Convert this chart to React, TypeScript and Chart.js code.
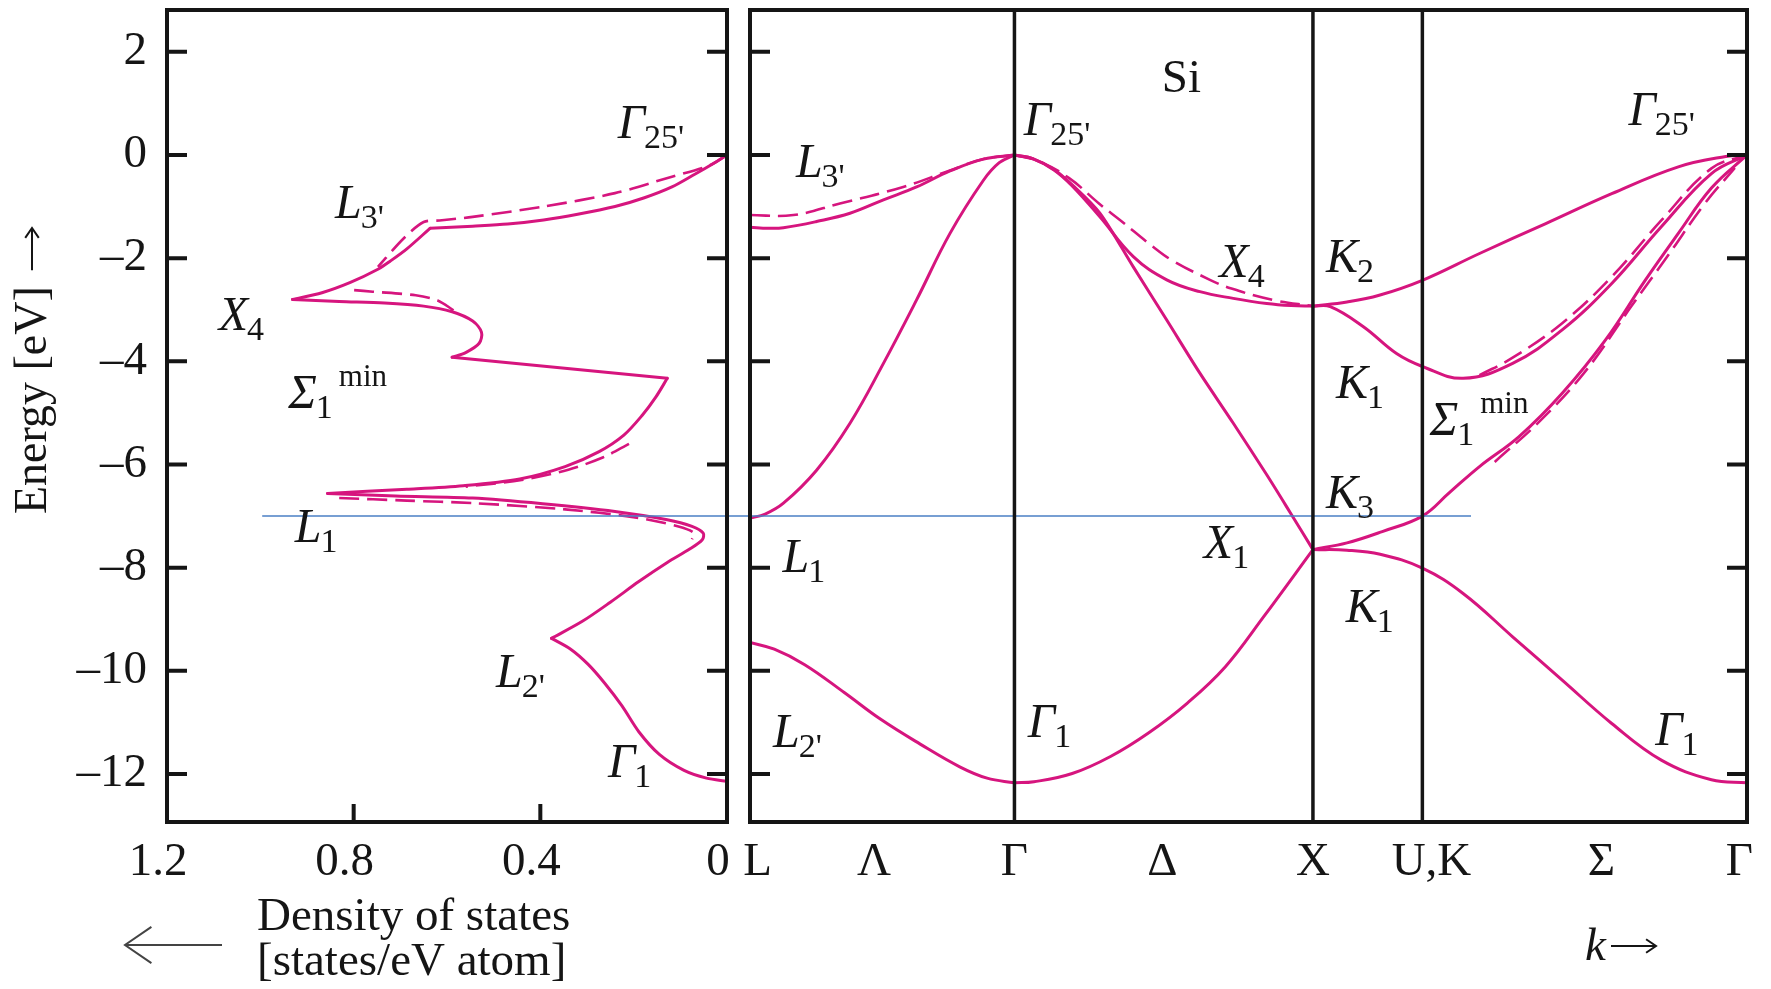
import React, { useEffect, useRef } from 'react';
import { Chart, registerables } from 'chart.js';

Chart.register(...registerables);

const W = 1771;
const H = 989;
const MAGENTA = '#d6157e';
const BLUE = '#4a7fc4';
const INK = '#151515';
const FONT = "'Liberation Serif', 'Times New Roman', serif";

// ---------- axes ----------
const energyMin = -12.93;
const energyMax = 2.81;
const energyTicks = [-12, -10, -8, -6, -4, -2, 0, 2];
const dosTicks = [0, 0.4, 0.8, 1.2];
const dosBottomMarks = [0.4, 0.8];

// k path: L, Γ, X, U/K, Γ
const kMax = 3.28;
const kSymmetryLines = [0.87, 1.852, 2.212];
const kLabelPos = [0.025, 0.408, 0.87, 1.357, 1.852, 2.242, 2.801, 3.255];
const kLabelNames = ['L', 'Λ', 'Γ', 'Δ', 'X', 'U,K', 'Σ', 'Γ'];

// ---------- density of states, solid [DOS, E] ----------
const dosTopBranch = [
  [0, 0], [0.03, -0.17], [0.07, -0.38], [0.118, -0.62], [0.177, -0.83], [0.240, -1.00],
  [0.320, -1.15], [0.393, -1.26], [0.470, -1.34], [0.545, -1.38], [0.636, -1.42],
];
const dosToX4 = [
  [0.636, -1.42], [0.686, -1.82], [0.722, -2.06], [0.747, -2.21], [0.807, -2.47], [0.868, -2.67], [0.931, -2.80],
];
const dosX4Bump = [
  [0.931, -2.80], [0.831, -2.84], [0.734, -2.87], [0.650, -2.93], [0.589, -3.04], [0.545, -3.22],
  [0.526, -3.44], [0.531, -3.65], [0.560, -3.83], [0.589, -3.92],
];
const dosSigmaRise = [[0.589, -3.92], [0.128, -4.33]];
const dosSigmaFall = [
  [0.128, -4.33], [0.153, -4.70], [0.182, -5.05], [0.221, -5.43], [0.274, -5.75], [0.347, -6.04],
  [0.444, -6.28], [0.565, -6.41], [0.686, -6.48], [0.856, -6.56],
];
const dosL1Peak = [
  [0.856, -6.56], [0.710, -6.61], [0.545, -6.65], [0.395, -6.76], [0.240, -6.91], [0.128, -7.07],
  [0.075, -7.20], [0.051, -7.33], [0.053, -7.46], [0.080, -7.64], [0.128, -7.90], [0.189, -8.27],
  [0.250, -8.67], [0.310, -9.04], [0.376, -9.37],
];
const dosBottom = [
  [0.376, -9.37], [0.335, -9.58], [0.298, -9.87], [0.262, -10.24], [0.225, -10.68], [0.189, -11.18],
  [0.145, -11.62], [0.092, -11.93], [0.044, -12.08], [0, -12.14],
];
// dashed DOS
const dosDashedTop = [
  [0, 0], [0.037, -0.20], [0.118, -0.42], [0.240, -0.74], [0.393, -1.00], [0.545, -1.20],
  [0.616, -1.27], [0.650, -1.30], [0.692, -1.61], [0.748, -2.17],
];
const dosDashedX4 = [[0.799, -2.62], [0.759, -2.65], [0.667, -2.72], [0.620, -2.82], [0.586, -3.01]];
const dosDashedMid = [[0.210, -5.60], [0.265, -5.86], [0.340, -6.10], [0.440, -6.30], [0.560, -6.43]];
const dosDashedL1 = [
  [0.831, -6.65], [0.686, -6.70], [0.541, -6.75], [0.347, -6.87], [0.201, -7.02], [0.104, -7.20],
  [0.070, -7.33], [0.075, -7.45],
];

// ---------- band structure [k, E] ----------
const bandL2Gamma1 = [
  [0, -9.45], [0.08, -9.58], [0.18, -9.88], [0.31, -10.42], [0.43, -10.94], [0.56, -11.42],
  [0.69, -11.86], [0.78, -12.08], [0.87, -12.17],
];
const bandL1Gamma25 = [
  [0, -7.04], [0.05, -6.96], [0.11, -6.75], [0.219, -6.11], [0.329, -5.20], [0.439, -4.04],
  [0.548, -2.81], [0.658, -1.52], [0.768, -0.49], [0.82, -0.15], [0.87, 0],
];
const bandL3Gamma25 = [
  [0, -1.40], [0.06, -1.42], [0.11, -1.41], [0.219, -1.29], [0.329, -1.13], [0.439, -0.87],
  [0.548, -0.62], [0.658, -0.31], [0.768, -0.08], [0.87, 0],
];
const bandL3Gamma25Dashed = [
  [0, -1.165], [0.143, -1.165], [0.296, -0.94], [0.504, -0.62], [0.658, -0.30], [0.768, -0.08], [0.87, 0],
];
const bandGamma1X1 = [
  [0.87, -12.17], [0.934, -12.15], [1.06, -11.99], [1.186, -11.66], [1.312, -11.20],
  [1.438, -10.63], [1.564, -9.92], [1.69, -8.95], [1.852, -7.65],
];
const bandGamma25X1 = [
  [0.87, 0], [0.93, -0.07], [1.0, -0.28], [1.06, -0.58], [1.151, -1.13], [1.261, -2.17],
  [1.371, -3.20], [1.48, -4.23], [1.59, -5.20], [1.70, -6.20], [1.777, -6.93], [1.852, -7.65],
];
const bandGamma25X4 = [
  [0.87, 0], [0.93, -0.07], [1.0, -0.29], [1.06, -0.60], [1.151, -1.20], [1.261, -1.97],
  [1.371, -2.42], [1.48, -2.65], [1.59, -2.78], [1.70, -2.88], [1.78, -2.92], [1.852, -2.93],
];
const bandGamma25X4Dashed = [
  [0.87, 0], [0.95, -0.12], [1.05, -0.45], [1.15, -0.95], [1.217, -1.26], [1.326, -1.78],
  [1.388, -2.04], [1.513, -2.42], [1.584, -2.59], [1.72, -2.81], [1.852, -2.93],
];
const bandXK2Gamma = [
  [1.852, -2.93], [1.964, -2.85], [2.07, -2.72], [2.212, -2.43], [2.40, -1.91], [2.618, -1.33],
  [2.835, -0.75], [3.054, -0.23], [3.21, -0.03], [3.28, 0],
];
const bandXK1SigmaGamma = [
  [1.852, -2.93], [1.909, -2.94], [2.018, -3.33], [2.127, -3.85], [2.212, -4.10], [2.346, -4.33],
  [2.509, -4.04], [2.672, -3.39], [2.835, -2.49], [2.998, -1.39], [3.163, -0.36], [3.28, 0],
];
const bandSigmaDashed = [
  [2.40, -4.27], [2.509, -3.93], [2.672, -3.26], [2.835, -2.36], [2.998, -1.27], [3.163, -0.26], [3.28, 0],
];
const bandXK3Gamma = [
  [1.852, -7.65], [1.964, -7.52], [2.08, -7.30], [2.212, -7.0], [2.30, -6.55], [2.40, -6.04],
  [2.53, -5.46], [2.672, -4.62], [2.814, -3.59], [2.945, -2.43], [3.054, -1.52], [3.163, -0.64], [3.28, 0],
];
const bandK3Dashed = [
  [2.45, -5.95], [2.60, -5.15], [2.75, -4.18], [2.90, -2.93], [3.02, -1.95], [3.14, -0.95], [3.24, -0.25],
];
const bandXK1Gamma1 = [
  [1.852, -7.65], [1.964, -7.66], [2.073, -7.74], [2.212, -8.01], [2.346, -8.50], [2.509, -9.34],
  [2.672, -10.18], [2.835, -11.02], [2.998, -11.73], [3.163, -12.11], [3.28, -12.17],
];

// reference energy line
const refLineDos = [[0.996, -7.0], [-0.052, -7.0]];
const refLineK = [[0, -7.0], [2.372, -7.0]];

// ---------- annotations ----------
type Label = { t: string; x: number; y: number; sub?: string; sup?: string; upright?: boolean };
const dosLabels: Label[] = [
  { t: 'Γ', sub: "25'", x: 0.234, y: 0.33 },
  { t: 'L', sub: "3'", x: 0.84, y: -1.22 },
  { t: 'X', sub: '4', x: 1.089, y: -3.39 },
  { t: 'Σ', sub: '1', sup: 'min', x: 0.94, y: -4.9 },
  { t: 'L', sub: '1', x: 0.926, y: -7.5 },
  { t: 'L', sub: "2'", x: 0.495, y: -10.31 },
  { t: 'Γ', sub: '1', x: 0.255, y: -12.05 },
];
const bandLabels: Label[] = [
  { t: 'L', sub: "3'", x: 0.151, y: -0.42 },
  { t: 'Γ', sub: "25'", x: 0.901, y: 0.38 },
  { t: 'Si', upright: true, x: 1.355, y: 1.22 },
  { t: 'X', sub: '4', x: 1.544, y: -2.36 },
  { t: 'K', sub: '2', x: 1.895, y: -2.26 },
  { t: 'K', sub: '1', x: 1.928, y: -4.72 },
  { t: 'Σ', sub: '1', sup: 'min', x: 2.236, y: -5.43 },
  { t: 'Γ', sub: "25'", x: 2.89, y: 0.58 },
  { t: 'K', sub: '3', x: 1.895, y: -6.84 },
  { t: 'X', sub: '1', x: 1.493, y: -7.82 },
  { t: 'L', sub: '1', x: 0.107, y: -8.08 },
  { t: 'K', sub: '1', x: 1.96, y: -9.05 },
  { t: 'L', sub: "2'", x: 0.076, y: -11.47 },
  { t: 'Γ', sub: '1', x: 0.914, y: -11.28 },
  { t: 'Γ', sub: '1', x: 2.978, y: -11.44 },
];

// ---------- helpers ----------
const toXY = (a: number[][]) => a.map(([x, y]) => ({ x, y }));

const solid = (d: number[][], tension = 0.4) => ({
  data: toXY(d), showLine: true, borderColor: MAGENTA, borderWidth: 3, pointRadius: 0,
  tension, fill: false, borderCapStyle: 'round' as const, borderJoinStyle: 'round' as const,
});
const dashed = (d: number[][], tension = 0.4) => ({
  ...solid(d, tension), borderWidth: 2.6, borderDash: [20, 8], borderCapStyle: 'butt' as const,
});

function drawLabels(chart: any, labels: Label[]) {
  const { ctx } = chart;
  const xs = chart.scales.x;
  const ys = chart.scales.y;
  ctx.save();
  ctx.fillStyle = INK;
  ctx.textAlign = 'left';
  ctx.textBaseline = 'alphabetic';
  for (const l of labels) {
    const px = xs.getPixelForValue(l.x);
    const py = ys.getPixelForValue(l.y);
    ctx.font = `${l.upright ? '' : 'italic '}${l.upright ? 47 : 48}px ${FONT}`;
    ctx.fillText(l.t, px, py);
    const cx = px + ctx.measureText(l.t).width;
    if (l.sub) {
      ctx.font = `34px ${FONT}`;
      ctx.fillText(l.sub, cx - 1, py + 10);
      const sw = ctx.measureText(l.sub).width;
      if (l.sup) {
        ctx.font = `31px ${FONT}`;
        ctx.fillText(l.sup, cx + sw + 5, py - 22);
      }
    }
  }
  ctx.restore();
}

function drawFrame(chart: any, bottomMarks: number[], vlines: number[]) {
  const { ctx, chartArea: a } = chart;
  const xs = chart.scales.x;
  const ys = chart.scales.y;
  ctx.save();
  ctx.strokeStyle = INK;
  ctx.lineCap = 'butt';
  ctx.lineWidth = 3.5;
  for (const v of vlines) {
    const px = xs.getPixelForValue(v);
    ctx.beginPath();
    ctx.moveTo(px, a.top);
    ctx.lineTo(px, a.bottom);
    ctx.stroke();
  }
  ctx.lineWidth = 4;
  ctx.beginPath();
  for (const v of energyTicks) {
    const py = ys.getPixelForValue(v);
    ctx.moveTo(a.left, py);
    ctx.lineTo(a.left + 20, py);
    ctx.moveTo(a.right - 20, py);
    ctx.lineTo(a.right, py);
  }
  for (const v of bottomMarks) {
    const px = xs.getPixelForValue(v);
    ctx.moveTo(px, a.bottom);
    ctx.lineTo(px, a.bottom - 18);
  }
  ctx.stroke();
  ctx.lineJoin = 'miter';
  ctx.strokeRect(a.left, a.top, a.right - a.left, a.bottom - a.top);
  ctx.restore();
}

function arrow(ctx: CanvasRenderingContext2D, x1: number, y1: number, x2: number, y2: number, head: number) {
  const ang = Math.atan2(y2 - y1, x2 - x1);
  ctx.beginPath();
  ctx.moveTo(x1, y1);
  ctx.lineTo(x2, y2);
  ctx.moveTo(x2 - head * Math.cos(ang - 0.6), y2 - head * Math.sin(ang - 0.6));
  ctx.lineTo(x2, y2);
  ctx.lineTo(x2 - head * Math.cos(ang + 0.6), y2 - head * Math.sin(ang + 0.6));
  ctx.stroke();
}

const zeroPad = (s: any) => { s.paddingTop = 0; s.paddingBottom = 0; s.paddingLeft = 0; s.paddingRight = 0; };
const tickFont = { family: FONT, size: 47 };

function leftConfig(): any {
  return {
    type: 'scatter',
    data: {
      datasets: [
        { data: toXY(refLineDos), showLine: true, borderColor: BLUE, borderWidth: 1.5, pointRadius: 0, clip: false },
        solid(dosTopBranch, 0.3),
        solid(dosToX4, 0.3),
        solid(dosX4Bump, 0.3),
        solid(dosSigmaRise, 0),
        solid(dosSigmaFall, 0.3),
        solid(dosL1Peak, 0.3),
        solid(dosBottom, 0.3),
        dashed(dosDashedTop, 0.3),
        dashed(dosDashedX4, 0.3),
        dashed(dosDashedMid, 0.3),
        dashed(dosDashedL1, 0.3),
      ],
    },
    options: {
      animation: false,
      responsive: false,
      devicePixelRatio: 1,
      events: [],
      layout: { padding: { left: 0, right: W - 727, top: 10, bottom: 0 } },
      plugins: { legend: { display: false }, tooltip: { enabled: false } },
      scales: {
        x: {
          type: 'linear', min: 0, max: 1.2, reverse: true,
          grid: { display: false, drawTicks: false }, border: { display: false },
          afterBuildTicks: (s: any) => { s.ticks = dosTicks.map((v) => ({ value: v })); },
          afterFit: (s: any) => { s.height = H - 822; zeroPad(s); },
          ticks: {
            padding: 12, color: INK, font: tickFont, maxRotation: 0, autoSkip: false, labelOffset: -9,
            callback: (v: any) => (Number(v) === 0 ? '0' : Number(v).toFixed(1)),
          },
        },
        y: {
          type: 'linear', min: energyMin, max: energyMax,
          grid: { display: false, drawTicks: false }, border: { display: false },
          afterBuildTicks: (s: any) => { s.ticks = energyTicks.map((v) => ({ value: v })); },
          afterFit: (s: any) => { s.width = 167; zeroPad(s); },
          ticks: {
            padding: 20, color: INK, font: tickFont, autoSkip: false,
            callback: (v: any) => (Number(v) < 0 ? '\u2013' + Math.abs(Number(v)) : String(v)),
          },
        },
      },
    },
    plugins: [
      {
        id: 'dosDecor',
        afterDatasetsDraw(chart: any) {
          drawFrame(chart, dosBottomMarks, []);
          drawLabels(chart, dosLabels);
        },
        afterDraw(chart: any) {
          const { ctx } = chart;
          // y title (rotated)
          ctx.save();
          ctx.fillStyle = INK;
          ctx.strokeStyle = INK;
          ctx.translate(34, 371);
          ctx.rotate(-Math.PI / 2);
          ctx.font = `46px ${FONT}`;
          ctx.textAlign = 'left';
          ctx.textBaseline = 'middle';
          ctx.fillText('Energy [eV]', -143, 0);
          const tw = ctx.measureText('Energy [eV]').width;
          ctx.lineWidth = 2;
          arrow(ctx, -143 + tw + 16, -2, 143, -2, 12);
          ctx.restore();
          // x title
          ctx.save();
          ctx.fillStyle = INK;
          ctx.font = `47px ${FONT}`;
          ctx.textAlign = 'left';
          ctx.textBaseline = 'alphabetic';
          ctx.fillText('Density of states', 257, 930);
          ctx.fillText('[states/eV atom]', 257, 975);
          ctx.strokeStyle = '#444';
          ctx.lineWidth = 2;
          arrow(ctx, 222, 945, 125, 945, 32);
          ctx.restore();
        },
      },
    ],
  };
}

function rightConfig(): any {
  return {
    type: 'scatter',
    data: {
      datasets: [
        { data: toXY(refLineK), showLine: true, borderColor: BLUE, borderWidth: 1.5, pointRadius: 0 },
        solid(bandL2Gamma1),
        solid(bandL1Gamma25),
        solid(bandL3Gamma25),
        dashed(bandL3Gamma25Dashed),
        solid(bandGamma1X1),
        solid(bandGamma25X1, 0.3),
        solid(bandGamma25X4),
        dashed(bandGamma25X4Dashed),
        solid(bandXK2Gamma),
        solid(bandXK1SigmaGamma),
        dashed(bandSigmaDashed),
        solid(bandXK3Gamma),
        dashed(bandK3Dashed),
        solid(bandXK1Gamma1),
      ],
    },
    options: {
      animation: false,
      responsive: false,
      devicePixelRatio: 1,
      events: [],
      layout: { padding: { left: 750, right: W - 1747, top: 10, bottom: 0 } },
      plugins: { legend: { display: false }, tooltip: { enabled: false } },
      scales: {
        x: {
          type: 'linear', min: 0, max: kMax,
          grid: { display: false, drawTicks: false }, border: { display: false },
          afterBuildTicks: (s: any) => { s.ticks = kLabelPos.map((v) => ({ value: v })); },
          afterFit: (s: any) => { s.height = H - 822; zeroPad(s); },
          ticks: {
            padding: 12, color: INK, font: tickFont, maxRotation: 0, autoSkip: false,
            callback: (_v: any, i: number) => kLabelNames[i],
          },
        },
        y: { type: 'linear', min: energyMin, max: energyMax, display: false },
      },
    },
    plugins: [
      {
        id: 'bandDecor',
        afterDatasetsDraw(chart: any) {
          drawFrame(chart, [], kSymmetryLines);
          drawLabels(chart, bandLabels);
        },
        afterDraw(chart: any) {
          const { ctx } = chart;
          ctx.save();
          ctx.fillStyle = INK;
          ctx.strokeStyle = INK;
          ctx.textAlign = 'left';
          ctx.textBaseline = 'alphabetic';
          ctx.font = `italic 47px ${FONT}`;
          ctx.fillText('k', 1585, 960);
          ctx.lineWidth = 2;
          arrow(ctx, 1611, 946, 1656, 946, 12);
          ctx.restore();
        },
      },
    ],
  };
}

export default function App() {
  const leftRef = useRef<HTMLCanvasElement>(null);
  const rightRef = useRef<HTMLCanvasElement>(null);

  useEffect(() => {
    const left = new Chart(leftRef.current as HTMLCanvasElement, leftConfig());
    const right = new Chart(rightRef.current as HTMLCanvasElement, rightConfig());
    return () => {
      left.destroy();
      right.destroy();
    };
  }, []);

  const cs: React.CSSProperties = { position: 'absolute', left: 0, top: 0, width: W, height: H };
  return (
    <div style={{ position: 'absolute', left: 0, top: 0, width: W, height: H, background: '#fff', overflow: 'hidden' }}>
      <canvas ref={leftRef} width={W} height={H} style={cs} />
      <canvas ref={rightRef} width={W} height={H} style={cs} />
    </div>
  );
}
